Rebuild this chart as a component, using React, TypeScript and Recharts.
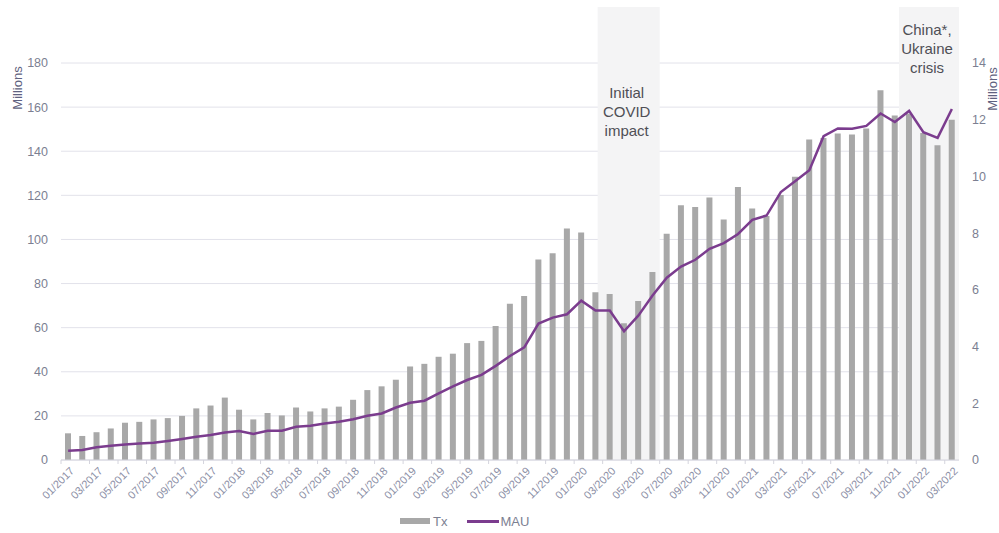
import React from 'react';
import {
  ComposedChart,
  Bar,
  Line,
  XAxis,
  YAxis,
  CartesianGrid,
  Legend,
  ReferenceArea,
} from 'recharts';

const months = [
  '01/2017', '02/2017', '03/2017', '04/2017', '05/2017', '06/2017', '07/2017', '08/2017', '09/2017', '10/2017', '11/2017', '12/2017',
  '01/2018', '02/2018', '03/2018', '04/2018', '05/2018', '06/2018', '07/2018', '08/2018', '09/2018', '10/2018', '11/2018', '12/2018',
  '01/2019', '02/2019', '03/2019', '04/2019', '05/2019', '06/2019', '07/2019', '08/2019', '09/2019', '10/2019', '11/2019', '12/2019',
  '01/2020', '02/2020', '03/2020', '04/2020', '05/2020', '06/2020', '07/2020', '08/2020', '09/2020', '10/2020', '11/2020', '12/2020',
  '01/2021', '02/2021', '03/2021', '04/2021', '05/2021', '06/2021', '07/2021', '08/2021', '09/2021', '10/2021', '11/2021', '12/2021',
  '01/2022', '02/2022', '03/2022',
];

const txValues = [
  12.1, 10.9, 12.6, 14.3, 16.9, 17.3, 18.4, 19.0, 20.0, 23.4, 24.7, 28.3,
  22.8, 18.4, 21.3, 20.2, 23.8, 22.0, 23.4, 24.2, 27.3, 31.7, 33.4, 36.4,
  42.4, 43.6, 46.8, 48.2, 53.0, 54.0, 60.8, 70.9, 74.4, 90.9, 93.7, 105.0,
  103.2, 76.1, 75.3, 62.0, 72.1, 85.2, 102.6, 115.5, 114.7, 119.0, 109.0, 123.8,
  114.0, 110.6, 120.1, 128.4, 145.3, 146.0, 148.0, 147.6, 150.3, 167.6, 156.2, 157.0,
  148.3, 142.7, 154.3,
];

const mauValues = [
  0.33, 0.35, 0.45, 0.5, 0.55, 0.58, 0.61, 0.67, 0.74, 0.82, 0.88, 0.97,
  1.02, 0.92, 1.03, 1.03, 1.17, 1.21, 1.29, 1.35, 1.44, 1.56, 1.64, 1.85,
  2.02, 2.09, 2.35, 2.6, 2.82, 3.0, 3.32, 3.67, 3.97, 4.81, 5.02, 5.14,
  5.62, 5.27, 5.27, 4.54, 5.09, 5.8, 6.43, 6.82, 7.06, 7.45, 7.65, 7.97,
  8.47, 8.62, 9.45, 9.83, 10.22, 11.42, 11.69, 11.68, 11.78, 12.22, 11.92, 12.31,
  11.56, 11.36, 12.38,
];

const leftTicks = [0, 20, 40, 60, 80, 100, 120, 140, 160, 180];
const rightTicks = [0, 2, 4, 6, 8, 10, 12, 14];

const covidLines = ['Initial', 'COVID', 'impact'];
const crisisLines = ['China*,', 'Ukraine', 'crisis'];

const data = months.map((m, i) => ({ month: m, tx: txValues[i], mau: mauValues[i] }));

const FONT = '"Liberation Sans", Arial, Helvetica, sans-serif';
const TICK_COLOR = '#7c7f92';
const BAR_COLOR = '#a8a8a8';
const LINE_COLOR = '#7b3c8e';
const SHADE = '#f4f4f5';
const SHADE_TOP = 7;

const MonthTick = (props: any) => {
  const { x, y, payload } = props;
  const off = payload && typeof payload.offset === 'number' ? payload.offset : 7.1;
  const tx = x + 1;
  const ty = y + 6;
  return (
    <g>
      <line x1={x - off} x2={x - off} y1={y} y2={y + 4} stroke="#d4d4dd" strokeWidth={1} />
      <text
        x={tx}
        y={ty}
        textAnchor="end"
        dominantBaseline="hanging"
        transform={`rotate(-45 ${tx} ${ty})`}
        fontSize={11}
        fill="#8c8fa6"
        fontFamily={FONT}
      >
        {payload.value}
      </text>
    </g>
  );
};

const makeShade = (lines: string[], firstBaseline: number, extendLeft: number, textShift: number) => (props: any) => {
  const { x, y, width, height } = props;
  const left = x - extendLeft;
  const w = width + extendLeft;
  const bottom = y + height;
  const cx = left + w / 2 + textShift;
  return (
    <g>
      <rect x={left} y={SHADE_TOP} width={w} height={bottom - SHADE_TOP} fill={SHADE} />
      <text textAnchor="middle" fontSize={15} fill="#4f4f55" fontFamily={FONT}>
        {lines.map((l, i) => (
          <tspan key={i} x={cx} y={firstBaseline + i * 19}>
            {l}
          </tspan>
        ))}
      </text>
    </g>
  );
};

const LegendContent = () => (
  <div
    style={{
      display: 'flex',
      alignItems: 'center',
      height: 24,
      paddingLeft: 400,
      fontFamily: FONT,
      fontSize: 13,
      color: TICK_COLOR,
      boxSizing: 'border-box',
    }}
  >
    <span style={{ display: 'inline-block', width: 30, height: 6, background: BAR_COLOR }} />
    <span style={{ marginLeft: 3 }}>Tx</span>
    <span style={{ display: 'inline-block', width: 32, height: 3, background: LINE_COLOR, marginLeft: 20 }} />
    <span style={{ marginLeft: 1 }}>MAU</span>
  </div>
);

export default function App() {
  return (
    <div style={{ position: 'absolute', left: 0, top: 0, width: 999, height: 533, background: '#fff', fontFamily: FONT }}>
      <ComposedChart
        width={999}
        height={533}
        data={data}
        margin={{ top: 63, right: 0, bottom: 0, left: 0 }}
        barSize={6}
      >
        <CartesianGrid yAxisId="left" vertical={false} stroke="#e2e2ea" />
        <ReferenceArea
          yAxisId="left"
          x1="03/2020"
          x2="06/2020"
          ifOverflow="visible"
          shape={makeShade(covidLines, 98, 5, -2)}
        />
        <ReferenceArea
          yAxisId="left"
          x1="12/2021"
          x2="03/2022"
          ifOverflow="visible"
          shape={makeShade(crisisLines, 35, 3, -2)}
        />
        <XAxis
          dataKey="month"
          interval={1}
          height={49}
          tickSize={0}
          tickMargin={0}
          tickLine={false}
          axisLine={{ stroke: '#d4d4dd' }}
          tick={<MonthTick />}
        />
        <YAxis
          yAxisId="left"
          orientation="left"
          width={61}
          domain={[0, 180]}
          ticks={leftTicks}
          interval={0}
          axisLine={false}
          tickLine={false}
          tickSize={6}
          tickMargin={7}
          tick={{ fontSize: 12.5, fill: TICK_COLOR, fontFamily: FONT }}
          label={{
            content: () => (
              <text
                x={22}
                y={88}
                textAnchor="middle"
                transform="rotate(-90 22 88)"
                fontSize={13}
                fill="#5f6280"
                fontFamily={FONT}
              >
                Millions
              </text>
            ),
          }}
        />
        <YAxis
          yAxisId="right"
          orientation="right"
          width={40}
          domain={[0, 14]}
          ticks={rightTicks}
          interval={0}
          axisLine={false}
          tickLine={false}
          tickSize={6}
          tickMargin={7}
          tick={{ fontSize: 12.5, fill: TICK_COLOR, fontFamily: FONT, textAnchor: 'start' }}
          label={{
            content: () => (
              <text
                x={997}
                y={89}
                textAnchor="middle"
                transform="rotate(-90 997 89)"
                fontSize={13}
                fill="#5f6280"
                fontFamily={FONT}
              >
                Millions
              </text>
            ),
          }}
        />
        <Bar yAxisId="left" dataKey="tx" name="Tx" fill={BAR_COLOR} isAnimationActive={false} />
        <Line
          yAxisId="right"
          dataKey="mau"
          name="MAU"
          type="linear"
          stroke={LINE_COLOR}
          strokeWidth={2.5}
          dot={false}
          activeDot={false}
          isAnimationActive={false}
        />
        <Legend
          verticalAlign="bottom"
          height={24}
          wrapperStyle={{ left: 0, width: 999 }}
          content={<LegendContent />}
        />
      </ComposedChart>
    </div>
  );
}
